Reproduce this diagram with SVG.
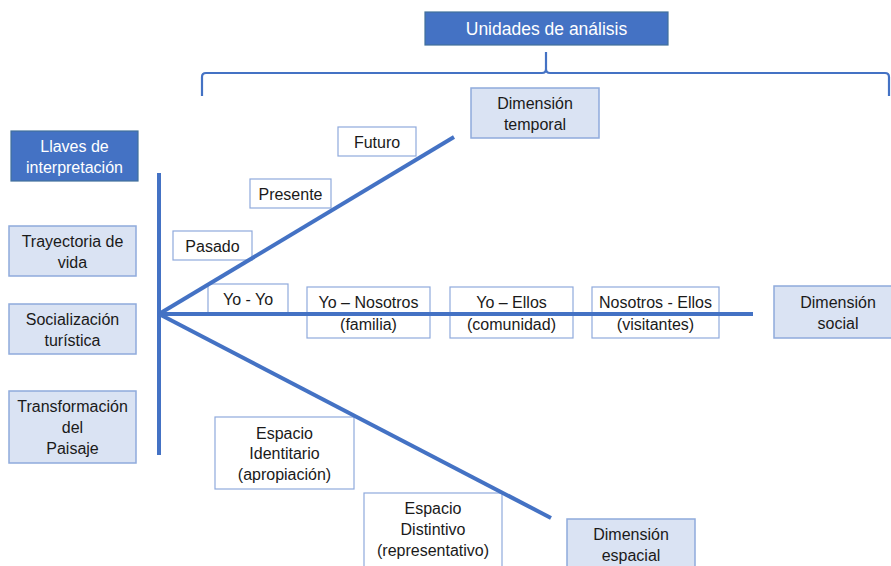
<svg xmlns="http://www.w3.org/2000/svg" width="891" height="566" viewBox="0 0 891 566">
<style>
text{font-family:"Liberation Sans",Arial,sans-serif;font-size:16px;fill:#1a1a1a;text-anchor:middle}
.dark{fill:#4472C4;stroke:#41719C;stroke-width:1.2}
.wt{fill:#ffffff}
.big{font-size:17.5px}
.light{fill:#DAE3F3;stroke:#8FAADC;stroke-width:1.5}
.white{fill:#ffffff;stroke:#8FAADC;stroke-width:1.2}
.ln{stroke:#4472C4;stroke-width:4;fill:none;stroke-linecap:butt}
.brace{stroke:#4472C4;stroke-width:2.2;fill:none}
</style>
<g id="unidades"><rect class="dark" x="425" y="12" width="243" height="33"/><text class="wt big" x="546.5" y="34.5">Unidades de análisis</text></g>
<g id="llaves"><rect class="dark" x="11" y="131" width="127" height="50"/><text class="wt" x="74.5" y="152">Llaves de</text><text class="wt" x="74.5" y="173">interpretación</text></g>
<g id="trayectoria"><rect class="light" x="9" y="226" width="127" height="50"/><text x="72.5" y="247">Trayectoria de</text><text x="72.5" y="268">vida</text></g>
<g id="socializacion"><rect class="light" x="9" y="304" width="127" height="50"/><text x="72.5" y="325">Socialización</text><text x="72.5" y="346">turística</text></g>
<g id="transformacion"><rect class="light" x="9" y="391" width="127" height="72"/><text x="72.5" y="412">Transformación</text><text x="72.5" y="433">del</text><text x="72.5" y="454">Paisaje</text></g>
<g id="dim-temporal"><rect class="light" x="471" y="88" width="128" height="50"/><text x="535" y="109">Dimensión</text><text x="535" y="130">temporal</text></g>
<g id="futuro"><rect class="white" x="338" y="127" width="78" height="29"/><text x="377" y="147.5">Futuro</text></g>
<g id="presente"><rect class="white" x="250" y="179" width="81" height="29"/><text x="290.5" y="199.5">Presente</text></g>
<g id="pasado"><rect class="white" x="173" y="231" width="79" height="29"/><text x="212.5" y="251.5">Pasado</text></g>
<g id="yo-yo"><rect class="white" x="208" y="284" width="80" height="29"/><text x="248" y="304.5">Yo - Yo</text></g>
<g id="yo-nosotros"><rect class="white" x="307" y="287" width="123" height="51"/><text x="368.5" y="308">Yo – Nosotros</text><text x="368.5" y="330">(familia)</text></g>
<g id="yo-ellos"><rect class="white" x="450" y="287" width="123" height="51"/><text x="511.5" y="308">Yo – Ellos</text><text x="511.5" y="330">(comunidad)</text></g>
<g id="nosotros-ellos"><rect class="white" x="592" y="287" width="127" height="51"/><text x="655.5" y="308">Nosotros - Ellos</text><text x="655.5" y="330">(visitantes)</text></g>
<g id="dim-social"><rect class="light" x="774" y="286" width="118" height="52"/><text x="838" y="308">Dimensión</text><text x="838" y="329">social</text></g>
<g id="esp-identitario"><rect class="white" x="215" y="417" width="139" height="72"/><text x="284.5" y="439">Espacio</text><text x="284.5" y="459">Identitario</text><text x="284.5" y="480">(apropiación)</text></g>
<g id="esp-distintivo"><rect class="white" x="364" y="493" width="138" height="74"/><text x="433" y="514">Espacio</text><text x="433" y="535">Distintivo</text><text x="433" y="556">(representativo)</text></g>
<g id="dim-espacial"><rect class="light" x="567" y="519" width="128" height="50"/><text x="631" y="540">Dimensión</text><text x="631" y="561">espacial</text></g>
<g id="connectors">
<path class="brace" d="M202,96 V77 Q202,73 206,73 H542 Q546,73 546,69 V52 M546,69 Q546,73 550,73 H885 Q889,73 889,77 V96"/>
<line class="ln" x1="159" y1="173" x2="159" y2="455"/>
<line class="ln" x1="159" y1="314" x2="454" y2="137"/>
<line class="ln" x1="159" y1="314" x2="753" y2="314"/>
<line class="ln" x1="159" y1="314" x2="551" y2="518"/>
</g>
</svg>
